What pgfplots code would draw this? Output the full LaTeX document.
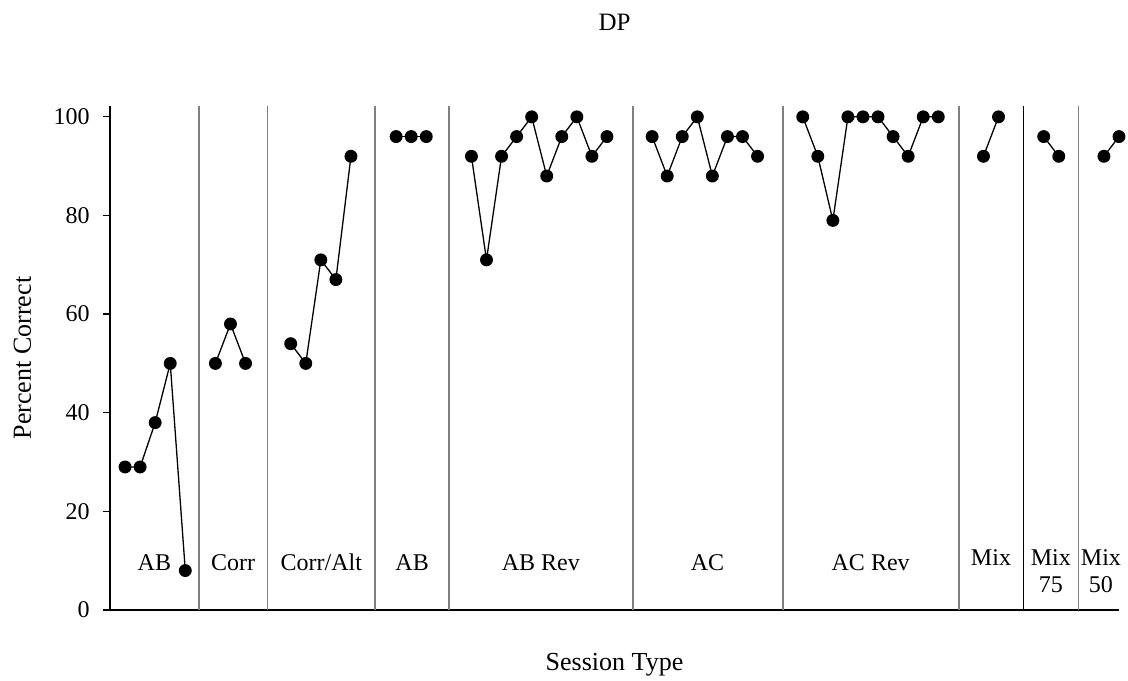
\documentclass[border=0pt]{standalone}
\usepackage{fontspec}
\setmainfont{Liberation Serif}
\usepackage{pgfplots}
\pgfplotsset{compat=1.18}
\definecolor{sepgray}{RGB}{128,128,128}
\begin{document}
\fontsize{12pt}{14pt}\selectfont
\begin{tikzpicture}
\useasboundingbox (0,0) rectangle (564pt,340pt);
\begin{axis}[
  at={(55pt,35pt)}, anchor=south west,
  scale only axis, width=504.5pt, height=252pt,
  xmin=0, xmax=67, ymin=0, ymax=102.2,
  axis x line*=bottom, axis y line*=left,
  xtick=\empty, ytick={0,20,40,60,80,100},
  tick align=outside, major tick length=3.5pt,
  axis line style={line width=0.65pt, black},
  every tick/.style={black, line width=0.65pt},
  /pgf/number format/assume math mode=true,
  ticklabel style={font=\fontsize{12}{14}\selectfont},
  yticklabel style={anchor=east, inner sep=0pt, xshift=-6.5pt},
  clip=false,
  title={DP},
  title style={at={(axis description cs:0.5,1)}, anchor=base, yshift=31.5pt, font=\fontsize{12.5}{14}\selectfont},
  xlabel={Session Type},
  xlabel style={at={(axis description cs:0.5,0)}, anchor=base, yshift=-30pt, font=\fontsize{13}{15}\selectfont},
  ylabel={Percent Correct},
  ylabel style={at={(axis description cs:0,0.5)}, rotate=0, anchor=base, yshift=39.5pt, font=\fontsize{13}{15}\selectfont},
  seg/.style={black, solid, line width=0.65pt, mark=*, mark size=2.9pt, mark options={solid, fill=black, draw=black}},
  sep/.style={sepgray, solid, line width=0.8pt, mark=none},
]
% separators
\addplot[sep] coordinates {(5.89,0) (5.89,102.2)};
\addplot[sep] coordinates {(10.47,0) (10.47,102.2)};
\addplot[sep] coordinates {(17.60,0) (17.60,102.2)};
\addplot[sep] coordinates {(22.53,0) (22.53,102.2)};
\addplot[sep] coordinates {(34.71,0) (34.71,102.2)};
\addplot[sep] coordinates {(44.67,0) (44.67,102.2)};
\addplot[sep] coordinates {(56.37,0) (56.37,102.2)};
\addplot[sep, black, line width=0.65pt] coordinates {(60.64,0) (60.64,102.2)};
\addplot[sep] coordinates {(64.32,0) (64.32,102.2)};
% data
\addplot[seg] coordinates {(1,29) (2,29) (3,38) (4,50) (5,8)};
\addplot[seg] coordinates {(7,50) (8,58) (9,50)};
\addplot[seg] coordinates {(12,54) (13,50) (14,71) (15,67) (16,92)};
\addplot[seg] coordinates {(19,96) (20,96) (21,96)};
\addplot[seg] coordinates {(24,92) (25,71) (26,92) (27,96) (28,100) (29,88) (30,96) (31,100) (32,92) (33,96)};
\addplot[seg] coordinates {(36,96) (37,88) (38,96) (39,100) (40,88) (41,96) (42,96) (43,92)};
\addplot[seg] coordinates {(46,100) (47,92) (48,79) (49,100) (50,100) (51,100) (52,96) (53,92) (54,100) (55,100)};
\addplot[seg] coordinates {(58,92) (59,100)};
\addplot[seg] coordinates {(62,96) (63,92)};
\addplot[seg] coordinates {(66,92) (67,96)};
% category labels
\node[anchor=base] at (axis cs:2.945,8.1) {AB};
\node[anchor=base] at (axis cs:8.18,8.1) {Corr};
\node[anchor=base] at (axis cs:14.03,8.1) {Corr/Alt};
\node[anchor=base] at (axis cs:20.06,8.1) {AB};
\node[anchor=base] at (axis cs:28.61,8.1) {AB Rev};
\node[anchor=base] at (axis cs:39.68,8.1) {AC};
\node[anchor=base] at (axis cs:50.51,8.1) {AC Rev};
\node[anchor=base] at (axis cs:58.50,9.1) {Mix};
\node[anchor=base] at (axis cs:62.47,9.1) {Mix};
\node[anchor=base] at (axis cs:62.47,3.6) {75};
\node[anchor=base] at (axis cs:65.80,9.1) {Mix};
\node[anchor=base] at (axis cs:65.80,3.6) {50};
\end{axis}
\end{tikzpicture}
\end{document}
